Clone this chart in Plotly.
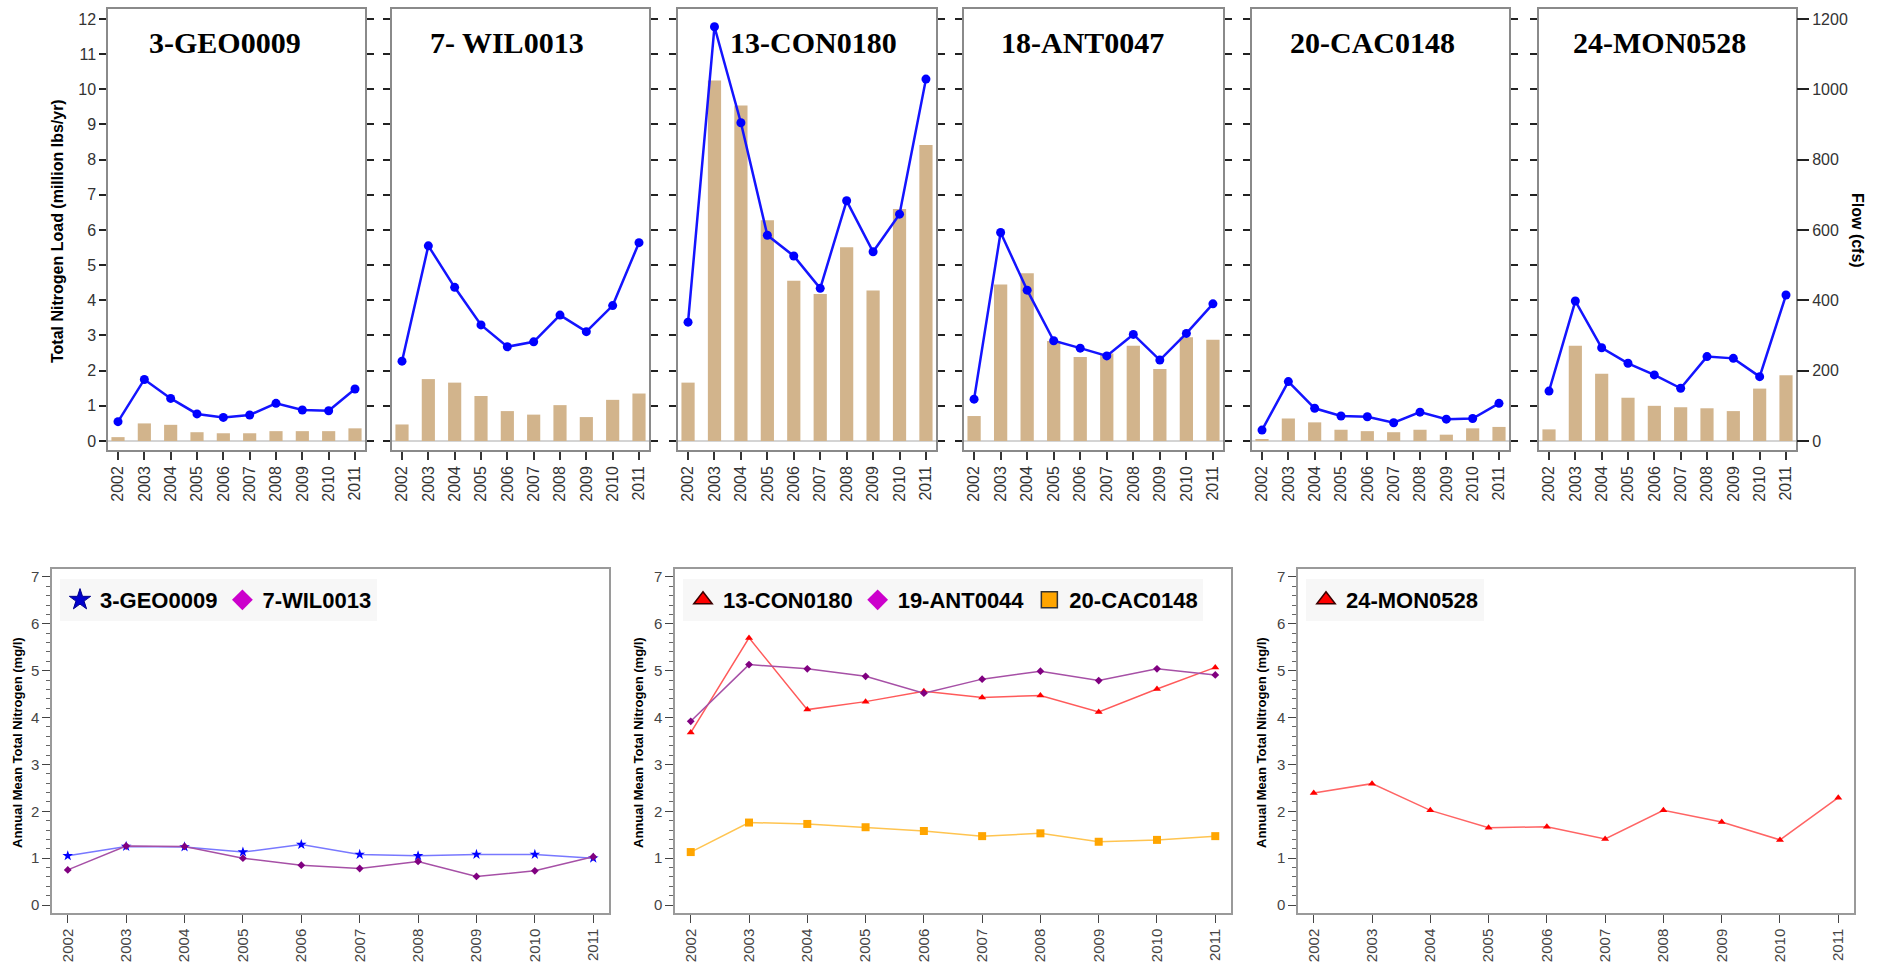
import plotly.graph_objects as go

# ---------------- data ----------------
years = [2002, 2003, 2004, 2005, 2006, 2007, 2008, 2009, 2010, 2011]
year_labels = [str(y) for y in years]

top_titles = ["3-GEO0009", "7- WIL0013", "13-CON0180", "18-ANT0047", "20-CAC0148", "24-MON0528"]

# Total nitrogen load (million lbs/yr) - bars
load_geo0009 = [0.11, 0.50, 0.46, 0.25, 0.22, 0.22, 0.28, 0.28, 0.28, 0.36]
load_wil0013 = [0.47, 1.76, 1.66, 1.28, 0.85, 0.75, 1.02, 0.68, 1.17, 1.35]
load_con0180 = [1.66, 10.25, 9.54, 6.28, 4.56, 4.18, 5.51, 4.28, 6.60, 8.42]
load_ant0047 = [0.71, 4.45, 4.77, 2.84, 2.39, 2.49, 2.71, 2.05, 2.95, 2.88]
load_cac0148 = [0.04, 0.64, 0.53, 0.32, 0.28, 0.25, 0.32, 0.18, 0.36, 0.40]
load_mon0528 = [0.33, 2.71, 1.91, 1.23, 1.00, 0.96, 0.93, 0.85, 1.49, 1.87]

# Flow (cfs) - lines
flow_geo0009 = [55, 175, 121, 77, 67, 74, 107, 88, 86, 148]
flow_wil0013 = [227, 555, 437, 330, 268, 282, 358, 311, 385, 564]
flow_con0180 = [338, 1178, 905, 585, 526, 434, 683, 538, 645, 1029]
flow_ant0047 = [119, 593, 429, 285, 264, 242, 303, 230, 306, 390]
flow_cac0148 = [31, 169, 93, 71, 69, 52, 82, 62, 64, 107]
flow_mon0528 = [142, 398, 265, 221, 188, 150, 240, 235, 183, 415]

load_ticks = list(range(0, 13))
flow_ticks = [0, 200, 400, 600, 800, 1000, 1200]

# Annual mean total nitrogen (mg/l)
tn_geo0009 = [1.05, 1.25, 1.24, 1.13, 1.29, 1.08, 1.05, 1.08, 1.08, 1.00]
tn_wil0013 = [0.75, 1.26, 1.25, 1.00, 0.85, 0.78, 0.93, 0.61, 0.73, 1.03]
tn_con0180 = [3.68, 5.70, 4.17, 4.34, 4.56, 4.43, 4.47, 4.12, 4.61, 5.07]
tn_ant0044 = [3.92, 5.13, 5.04, 4.88, 4.52, 4.82, 4.99, 4.79, 5.04, 4.91]
tn_cac0148 = [1.13, 1.76, 1.73, 1.66, 1.58, 1.47, 1.53, 1.35, 1.39, 1.47]
tn_mon0528 = [2.39, 2.59, 2.02, 1.65, 1.67, 1.41, 2.02, 1.77, 1.39, 2.29]
tn_ticks = list(range(0, 8))

# ---------------- layout helpers ----------------
W, H = 1885, 966
def fx(p):
    return p / W
def fy(p):
    return 1 - p / H
def xid(n):
    return "x" if n == 1 else f"x{n}"
def yid(n):
    return "y" if n == 1 else f"y{n}"
def xkey(n):
    return "xaxis" if n == 1 else f"xaxis{n}"
def ykey(n):
    return "yaxis" if n == 1 else f"yaxis{n}"

SANS = "Liberation Sans"
SERIF = "Liberation Serif"

fig = go.Figure()

loads = [load_geo0009, load_wil0013, load_con0180, load_ant0047, load_cac0148, load_mon0528]
flows = [flow_geo0009, flow_wil0013, flow_con0180, flow_ant0047, flow_cac0148, flow_mon0528]
top_px = [(108, 365), (392, 649), (678, 936), (964, 1223), (1252, 1509), (1539, 1796)]
title_pos = [0.455, 0.447, 0.527, 0.456, 0.47, 0.467]
top_y0, top_y1 = 450, 9

layout = dict(
    width=W, height=H, margin=dict(l=0, r=0, t=0, b=0),
    paper_bgcolor="white", plot_bgcolor="white",
    showlegend=True,
)
annotations = []

for i in range(6):
    n = i + 1
    ov = n + 6
    fig.add_trace(go.Bar(
        x=years, y=loads[i], width=0.5, marker=dict(color="#D2B48C", line=dict(width=0)),
        xaxis=xid(n), yaxis=yid(n), showlegend=False))
    fig.add_trace(go.Scatter(
        x=years, y=flows[i], mode="lines+markers",
        line=dict(color="#1414ff", width=2.5),
        marker=dict(color="#0000ff", size=9, symbol="circle"),
        xaxis=xid(n), yaxis=yid(ov), showlegend=False))
    x0, x1 = top_px[i]
    layout[xkey(n)] = dict(
        domain=[fx(x0), fx(x1)], anchor=yid(n), range=[2001.62, 2011.38],
        tickvals=years, ticktext=year_labels, tickangle=-90,
        ticks="outside", ticklen=8, tickwidth=1.5, tickcolor="#333",
        showline=True, linecolor="#8a8a8a", linewidth=1.5, mirror=True,
        showgrid=False, zeroline=False,
        tickfont=dict(family=SANS, size=16, color="#333"))
    layout[ykey(n)] = dict(
        domain=[fy(top_y0), fy(top_y1)], anchor=xid(n), range=[-0.256, 12.284],
        tickvals=load_ticks, ticks="outside", ticklen=7, tickwidth=1.5, tickcolor="#222",
        showticklabels=(n == 1),
        showline=True, linecolor="#8a8a8a", linewidth=1.5,
        mirror=("ticks" if n != 6 else True),
        showgrid=False, zeroline=True, zerolinecolor="#d4d4d4", zerolinewidth=2,
        tickfont=dict(family=SANS, size=16, color="#333"))
    if n == 6:
        layout[ykey(ov)] = dict(
            overlaying=yid(n), anchor=xid(n), side="right", range=[-25.6, 1228.4],
            tickvals=flow_ticks, ticks="outside", ticklen=12, tickwidth=1.5, tickcolor="#222",
            showline=False, showgrid=False, zeroline=False,
            tickfont=dict(family=SANS, size=16, color="#333"))
    else:
        layout[ykey(ov)] = dict(
            overlaying=yid(n), anchor=xid(n), range=[-25.6, 1228.4], visible=False,
            showgrid=False, zeroline=False)
    annotations.append(dict(
        text=f"<b>{top_titles[i]}</b>", xref=f"{xid(n)} domain", yref="paper",
        x=title_pos[i], y=fy(43), xanchor="center", yanchor="middle", showarrow=False,
        font=dict(family=SERIF, size=30, color="black")))

annotations.append(dict(
    text="<b>Total Nitrogen Load (million lbs/yr)</b>", xref="paper", yref="paper",
    x=fx(58), y=fy(231), textangle=-90, showarrow=False, xanchor="center", yanchor="middle",
    font=dict(family=SANS, size=16, color="black")))
annotations.append(dict(
    text="<b>Flow (cfs)</b>", xref="paper", yref="paper",
    x=fx(1858), y=fy(230), textangle=90, showarrow=False, xanchor="center", yanchor="middle",
    font=dict(family=SANS, size=16, color="black")))

# ---------------- bottom row ----------------
bot_px = [(52, 609), (675, 1231), (1298, 1854)]
bot_y0, bot_y1 = 913, 569
ylab_x = [17, 638, 1261]

bottom_series = [
    [("3-GEO0009", tn_geo0009, "#7878ff", "#0000ff", "star", 8,
      dict(color="#0000cd", line=dict(color="#00008b", width=1), symbol="star", size=16)),
     ("7-WIL0013", tn_wil0013, "#a650a6", "#800080", "diamond", 6,
      dict(color="#cc00cc", line=dict(color="#cc00cc", width=0), symbol="diamond", size=16))],
    [("13-CON0180", tn_con0180, "#ff5a5a", "#ff0000", "triangle-up", 7,
      dict(color="#ff0000", line=dict(color="#3a0000", width=1.5), symbol="triangle-up", size=16)),
     ("19-ANT0044", tn_ant0044, "#a650a6", "#800080", "diamond", 6,
      dict(color="#cc00cc", line=dict(color="#cc00cc", width=0), symbol="diamond", size=16)),
     ("20-CAC0148", tn_cac0148, "#ffc450", "#ffa500", "square", 8,
      dict(color="#ffa500", line=dict(color="#333333", width=1.5), symbol="square", size=16))],
    [("24-MON0528", tn_mon0528, "#ff6464", "#ff0000", "triangle-up", 7,
      dict(color="#ff0000", line=dict(color="#3a0000", width=1.5), symbol="triangle-up", size=16))],
]
legend_names = ["legend", "legend2", "legend3"]

for j in range(3):
    xn = 7 + j
    yn = 13 + j
    for (name, vals, lc, mc, sym, ms, legmarker) in bottom_series[j]:
        fig.add_trace(go.Scatter(
            x=years, y=vals, mode="lines+markers", name=name,
            line=dict(color=lc, width=1.5),
            marker=dict(color=mc, size=ms, symbol=sym),
            xaxis=xid(xn), yaxis=yid(yn), showlegend=False))
        fig.add_trace(go.Scatter(
            x=[None], y=[None], mode="markers", name=name, marker=legmarker,
            xaxis=xid(xn), yaxis=yid(yn), showlegend=True, legend=legend_names[j]))
    x0, x1 = bot_px[j]
    layout[xkey(xn)] = dict(
        domain=[fx(x0), fx(x1)], anchor=yid(yn), range=[2001.73, 2011.27],
        tickvals=years, ticktext=year_labels, tickangle=-90,
        ticks="outside", ticklen=8, tickwidth=1.2, tickcolor="#444",
        showline=True, linecolor="#9a9a9a", linewidth=1.5, mirror=True,
        showgrid=False, zeroline=False,
        tickfont=dict(family=SANS, size=15, color="#444"))
    layout[ykey(yn)] = dict(
        domain=[fy(bot_y0), fy(bot_y1)], anchor=xid(xn), range=[-0.17, 7.17],
        tickvals=tn_ticks, ticks="outside", ticklen=8, tickwidth=1.2, tickcolor="#444",
        minor=dict(dtick=0.2, ticks="outside", ticklen=4, tickcolor="#666", tickwidth=1),
        showline=True, linecolor="#9a9a9a", linewidth=1.5, mirror=True,
        showgrid=False, zeroline=False,
        tickfont=dict(family=SANS, size=15, color="#444"))
    annotations.append(dict(
        text="<b>Annual Mean Total Nitrogen (mg/l)</b>", xref="paper", yref="paper",
        x=fx(ylab_x[j]), y=fy(743), textangle=-90, showarrow=False,
        xanchor="center", yanchor="middle",
        font=dict(family=SANS, size=13, color="black")))
    leg = dict(
        orientation="h", x=fx(x0 + 8), y=fy(579), xanchor="left", yanchor="top",
        bgcolor="#f7f7f7", borderwidth=0, itemsizing="trace",
        font=dict(family=SANS, size=22, color="black", weight="bold"),
        tracegroupgap=0)
    layout[legend_names[j]] = leg

layout["annotations"] = annotations
fig.update_layout(**layout)
fig.write_html("out.html")
